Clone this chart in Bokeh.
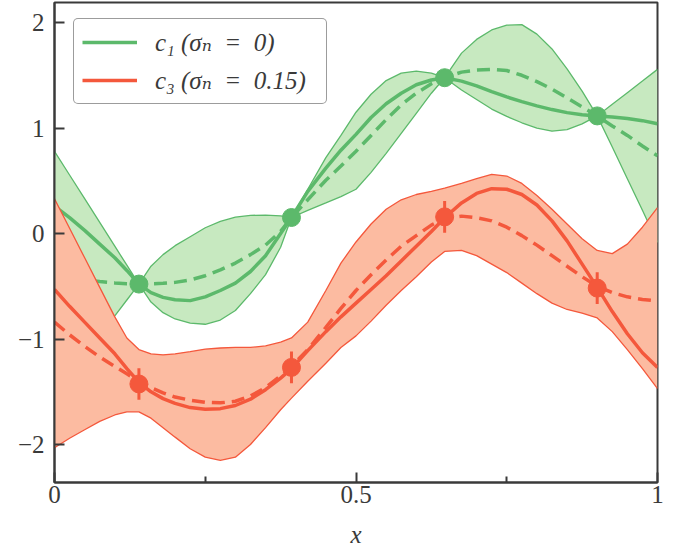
from bokeh.plotting import figure
from bokeh.models import Range1d, FixedTicker, Legend, LegendItem
from bokeh.embed import file_html
from bokeh.resources import INLINE

# ---------------- data ----------------
xs = [0, 0.025, 0.05, 0.075, 0.1, 0.12, 0.14, 0.16, 0.18, 0.2, 0.225, 0.25, 0.275,
      0.3, 0.325, 0.35, 0.375, 0.393, 0.42, 0.45, 0.475, 0.5, 0.525, 0.55, 0.575,
      0.6, 0.625, 0.647, 0.675, 0.7, 0.725, 0.75, 0.775, 0.8, 0.825, 0.85, 0.875,
      0.9, 0.925, 0.95, 0.975, 1.0]

# c1 (sigma_n = 0)
c1_true = [0.26, 0.15, 0.03, -0.10, -0.23, -0.35, -0.479, -0.56, -0.605, -0.628, -0.636,
           -0.60, -0.54, -0.47, -0.36, -0.21, 0.0, 0.152, 0.40, 0.62, 0.79, 0.94, 1.10,
           1.23, 1.33, 1.41, 1.455, 1.477, 1.445, 1.40, 1.345, 1.295, 1.25, 1.21, 1.175,
           1.146, 1.125, 1.115, 1.105, 1.09, 1.07, 1.04]
c1_mean = [-0.40, -0.42, -0.44, -0.455, -0.468, -0.476, -0.479, -0.477, -0.472, -0.463,
           -0.44, -0.40, -0.345, -0.28, -0.20, -0.11, 0.02, 0.152, 0.32, 0.505, 0.64,
           0.78, 0.93, 1.08, 1.22, 1.33, 1.42, 1.477, 1.53, 1.55, 1.555, 1.545, 1.50,
           1.44, 1.37, 1.285, 1.20, 1.115, 1.02, 0.93, 0.83, 0.736]
c1_upper = [0.78, 0.555, 0.33, 0.105, -0.12, -0.30, -0.479, -0.31, -0.20, -0.115, -0.03,
            0.055, 0.115, 0.155, 0.172, 0.175, 0.168, 0.152, 0.42, 0.72, 0.93, 1.15,
            1.32, 1.45, 1.52, 1.54, 1.52, 1.477, 1.71, 1.84, 1.93, 1.975, 1.98, 1.89,
            1.75, 1.56, 1.35, 1.115, 1.225, 1.335, 1.445, 1.556]
c1_lower = [-1.55, -1.36, -1.17, -0.97, -0.78, -0.63, -0.479, -0.65, -0.75, -0.81, -0.85,
            -0.86, -0.82, -0.73, -0.57, -0.39, -0.13, 0.152, 0.22, 0.29, 0.35, 0.42,
            0.58, 0.76, 0.95, 1.14, 1.33, 1.477, 1.36, 1.27, 1.18, 1.11, 1.05, 1.00,
            0.97, 0.985, 1.04, 1.115, 0.82, 0.52, 0.22, -0.085]

# c3 (sigma_n = 0.15)
c3_true = [-0.53, -0.69, -0.84, -0.99, -1.14, -1.28, -1.41, -1.50, -1.565, -1.61, -1.65,
           -1.665, -1.66, -1.63, -1.57, -1.48, -1.37, -1.28, -1.11, -0.93, -0.79, -0.66,
           -0.53, -0.40, -0.26, -0.12, 0.02, 0.15, 0.29, 0.38, 0.425, 0.42, 0.37, 0.27,
           0.12, -0.07, -0.29, -0.51, -0.74, -0.95, -1.13, -1.27]
c3_mean = [-0.84, -0.96, -1.07, -1.17, -1.26, -1.33, -1.40, -1.46, -1.51, -1.55, -1.58,
           -1.60, -1.605, -1.59, -1.54, -1.46, -1.35, -1.26, -1.10, -0.89, -0.71, -0.54,
           -0.39, -0.25, -0.12, -0.02, 0.08, 0.145, 0.165, 0.15, 0.12, 0.06, -0.02,
           -0.11, -0.21, -0.31, -0.41, -0.50, -0.56, -0.60, -0.625, -0.64]
c3_upper = [0.33, 0.05, -0.23, -0.51, -0.79, -0.99, -1.10, -1.14, -1.15, -1.14, -1.12,
            -1.095, -1.085, -1.08, -1.08, -1.065, -1.03, -0.99, -0.84, -0.54, -0.28,
            -0.08, 0.09, 0.23, 0.32, 0.37, 0.40, 0.43, 0.475, 0.52, 0.56, 0.545, 0.475,
            0.36, 0.23, 0.09, -0.05, -0.16, -0.19, -0.10, 0.06, 0.246]
c3_lower = [-2.03, -1.94, -1.86, -1.78, -1.72, -1.69, -1.69, -1.75, -1.84, -1.93, -2.04,
            -2.12, -2.15, -2.12, -2.0, -1.84, -1.67, -1.56, -1.40, -1.23, -1.08, -0.97,
            -0.83, -0.68, -0.54, -0.41, -0.27, -0.17, -0.16, -0.21, -0.29, -0.37, -0.47,
            -0.57, -0.66, -0.72, -0.755, -0.80, -0.93, -1.10, -1.28, -1.47]

obs_x = [0.14, 0.393, 0.647, 0.9]
c1_obs = [-0.479, 0.152, 1.477, 1.115]
c3_obs = [-1.426, -1.269, 0.158, -0.517]
c3_err = [0.15, 0.15, 0.15, 0.15]

x_ticks = [0, 0.5, 1]
x_minor = [0.25, 0.75]
x_labels = ["0", "0.5", "1"]
y_ticks = [-2, -1, 0, 1, 2]
y_labels = ["\u22122", "\u22121", "0", "1", "2"]

legend_labels = ["c\u2081\u2005(\u03c3\u2099\u2002=\u20020)",
                 "c\u2083\u2005(\u03c3\u2099\u2002=\u20020.15)\u2002"]

# ---------------- styles ----------------
GREEN = "#5cb96b"
GREEN_FILL = "#c7e9c0"
RED = "#f4583c"
RED_FILL = "#fcbba1"
INK = "#3a3a3a"
FONT = "'Liberation Serif', 'DejaVu Serif', serif"

p = figure(width=685, height=550, x_range=Range1d(0, 1), y_range=Range1d(-2.36, 2.19),
           output_backend="svg", toolbar_location=None,
           min_border_left=54, min_border_right=28, min_border_top=2, min_border_bottom=68)
p.background_fill_color = "white"
p.border_fill_color = "white"
p.outline_line_color = INK
p.outline_line_width = 2
p.xgrid.visible = False
p.ygrid.visible = False

# c1 band and lines
p.varea(x=xs, y1=c1_lower, y2=c1_upper, fill_color=GREEN_FILL)
p.line(xs, c1_upper, line_color=GREEN, line_width=1.3)
p.line(xs, c1_lower, line_color=GREEN, line_width=1.3)
g_true = p.line(xs, c1_true, line_color=GREEN, line_width=3.5)
p.line(xs, c1_mean, line_color=GREEN, line_width=3.5, line_dash="13 7")
p.scatter(obs_x, c1_obs, size=18, fill_color=GREEN, line_color=GREEN)

# c3 band and lines
p.varea(x=xs, y1=c3_lower, y2=c3_upper, fill_color=RED_FILL)
p.line(xs, c3_upper, line_color=RED, line_width=1.3)
p.line(xs, c3_lower, line_color=RED, line_width=1.3)
r_true = p.line(xs, c3_true, line_color=RED, line_width=3.5)
p.line(xs, c3_mean, line_color=RED, line_width=3.5, line_dash="13 7")
p.segment(x0=obs_x, y0=[v - e for v, e in zip(c3_obs, c3_err)],
          x1=obs_x, y1=[v + e for v, e in zip(c3_obs, c3_err)],
          line_color=RED, line_width=3)
p.scatter(obs_x, c3_obs, size=18, fill_color=RED, line_color=RED)

# axes
for ax in (p.xaxis[0], p.yaxis[0]):
    ax.axis_line_color = INK
    ax.axis_line_width = 2
    ax.major_tick_line_color = INK
    ax.major_tick_line_width = 2
    ax.minor_tick_line_color = INK
    ax.minor_tick_line_width = 2
    ax.major_tick_in = 10
    ax.major_tick_out = 0
    ax.minor_tick_in = 6
    ax.minor_tick_out = 0
    ax.major_label_text_font = FONT
    ax.major_label_text_font_size = "25px"
    ax.major_label_text_color = INK

p.xaxis.ticker = FixedTicker(ticks=x_ticks, minor_ticks=x_minor)
p.xaxis.major_label_overrides = {t: s for t, s in zip(x_ticks, x_labels)}
p.xaxis.major_label_standoff = 3
p.xaxis.axis_label = "x"
p.xaxis.axis_label_text_font = FONT
p.xaxis.axis_label_text_font_style = "italic"
p.xaxis.axis_label_text_font_size = "25px"
p.xaxis.axis_label_text_color = INK
p.xaxis.axis_label_standoff = 15

p.yaxis.ticker = FixedTicker(ticks=y_ticks, minor_ticks=[])
p.yaxis.major_label_overrides = {t: s for t, s in zip(y_ticks, y_labels)}
p.yaxis.major_label_standoff = 10

legend = Legend(items=[LegendItem(label=legend_labels[0], renderers=[g_true]),
                       LegendItem(label=legend_labels[1], renderers=[r_true])],
                location=(19, 378))
legend.margin = 0
legend.padding = 8
legend.spacing = 8
legend.glyph_width = 55
legend.glyph_height = 30
legend.label_height = 30
legend.label_standoff = 18
legend.label_text_font = FONT
legend.label_text_font_size = "25px"
legend.label_text_font_style = "italic"
legend.label_text_color = INK
legend.border_line_color = INK
legend.border_line_width = 1.5
legend.background_fill_color = "white"
legend.background_fill_alpha = 1.0
try:
    legend.border_radius = 5
except Exception:
    pass
p.add_layout(legend)

open("out.html", "w").write(file_html(p, INLINE))
